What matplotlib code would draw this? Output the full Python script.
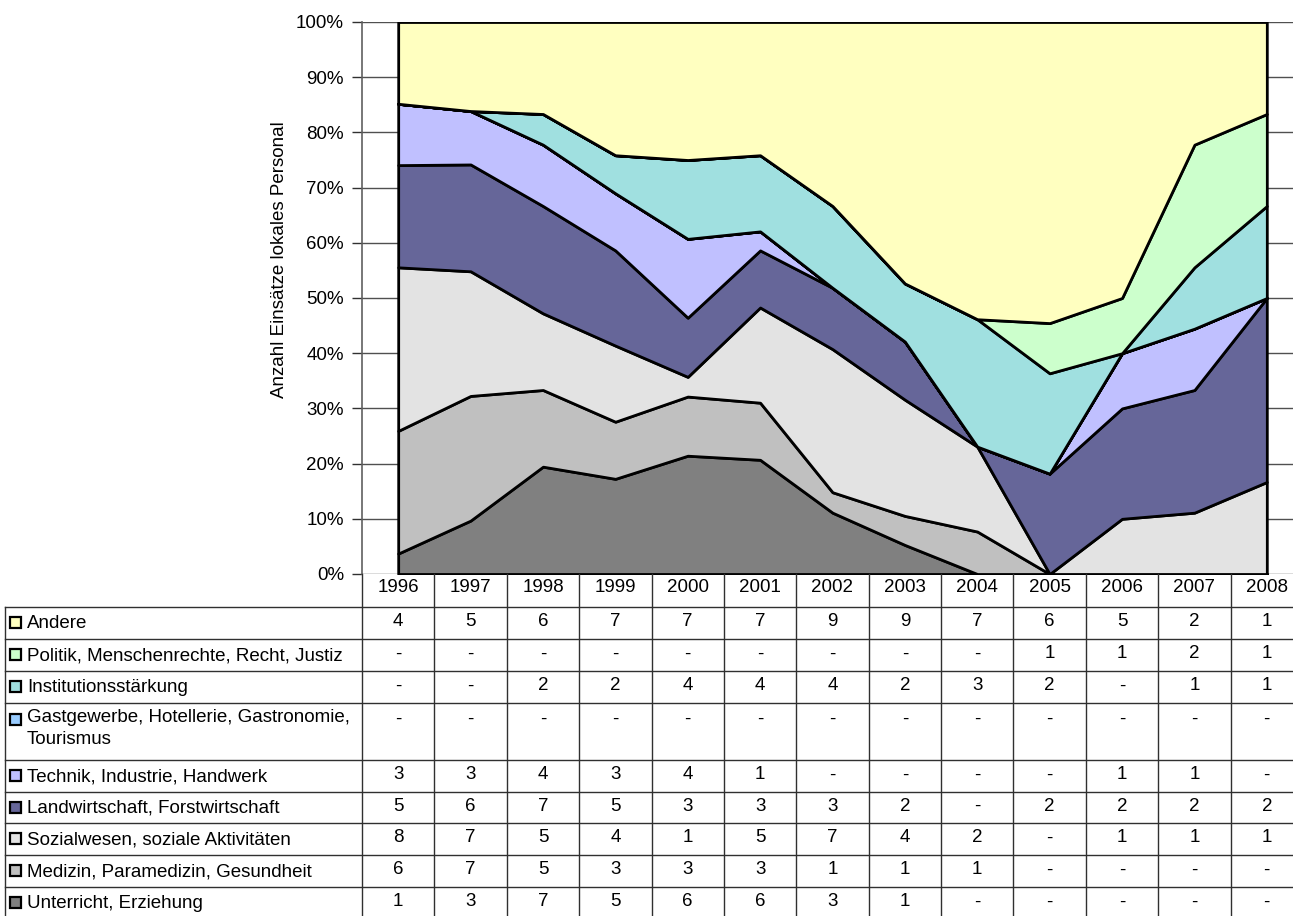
import matplotlib
matplotlib.use("Agg")
import matplotlib.pyplot as plt
import numpy as np
from matplotlib.transforms import blended_transform_factory
from matplotlib.patches import Rectangle

plt.rcParams["font.family"] = ["Liberation Sans", "DejaVu Sans"]

years = [1996, 1997, 1998, 1999, 2000, 2001, 2002, 2003, 2004, 2005, 2006, 2007, 2008]

# stack order, bottom -> top
labels = [
    "Unterricht, Erziehung",
    "Medizin, Paramedizin, Gesundheit",
    "Sozialwesen, soziale Aktivitäten",
    "Landwirtschaft, Forstwirtschaft",
    "Technik, Industrie, Handwerk",
    "Gastgewerbe, Hotellerie, Gastronomie,\nTourismus",
    "Institutionsstärkung",
    "Politik, Menschenrechte, Recht, Justiz",
    "Andere",
]
unterricht = [1, 3, 7, 5, 6, 6, 3, 1, 0, 0, 0, 0, 0]
medizin = [6, 7, 5, 3, 3, 3, 1, 1, 1, 0, 0, 0, 0]
sozial = [8, 7, 5, 4, 1, 5, 7, 4, 2, 0, 1, 1, 1]
landwirtschaft = [5, 6, 7, 5, 3, 3, 3, 2, 0, 2, 2, 2, 2]
technik = [3, 3, 4, 3, 4, 1, 0, 0, 0, 0, 1, 1, 0]
gastgewerbe = [0, 0, 0, 0, 0, 0, 0, 0, 0, 0, 0, 0, 0]
institution = [0, 0, 2, 2, 4, 4, 4, 2, 3, 2, 0, 1, 1]
politik = [0, 0, 0, 0, 0, 0, 0, 0, 0, 1, 1, 2, 1]
andere = [4, 5, 6, 7, 7, 7, 9, 9, 7, 6, 5, 2, 1]

series = [unterricht, medizin, sozial, landwirtschaft, technik,
          gastgewerbe, institution, politik, andere]
colors = ["#808080", "#C0C0C0", "#E3E3E3", "#666699", "#C0C0FF",
          "#99CCFF", "#A0E0E0", "#CCFFCC", "#FFFFC0"]

FS = 13.5
W, H = 1293, 916
fig = plt.figure(figsize=(W / 100, H / 100), dpi=100)

# plot area in pixel terms
x_left, x_right = 362, 1303
y_top, y_bot = 22, 574
ax = fig.add_axes([x_left / W, 1 - y_bot / H, (x_right - x_left) / W, (y_bot - y_top) / H])

data = np.array(series, dtype=float)
pct = data / data.sum(axis=0) * 100
cum = np.vstack([np.zeros(len(years)), np.cumsum(pct, axis=0)])

for i in range(len(series)):
    ax.fill_between(years, cum[i], cum[i + 1], facecolor=colors[i],
                    edgecolor="black", linewidth=2, zorder=3)

ax.set_xlim(years[0] - 0.5, years[-1] + 0.5)
ax.set_ylim(0, 100)
ax.set_yticks(range(0, 101, 10))
ax.set_yticklabels([f"{v}%" for v in range(0, 101, 10)], fontsize=FS)
ax.set_xticks([])
ax.tick_params(axis="y", direction="out", length=7, width=1, color="#303030", pad=6)
ax.grid(axis="y", color="#505050", linewidth=1, zorder=0)
for s in ["top", "right", "bottom"]:
    ax.spines[s].set_visible(False)
ax.spines["left"].set_color("#606060")
ax.spines["left"].set_linewidth(1.2)

fig.text(279 / W, 1 - 260 / H, "Anzahl Einsätze lokales Personal", rotation=90,
         ha="center", va="center", fontsize=FS)

# data table below the chart
tab = fig.add_axes([0, 0, 1, 1 - y_bot / H])
tab.set_ylim(H, y_bot)
tab.set_xlim(0, W)
tab.axis("off")
bt = blended_transform_factory(ax.transData, tab.transData)

row_edges = [607, 639, 671, 703, 760, 792, 823, 855, 887, 919]
line_col = "#303030"

# header row with years
for yr in years:
    tab.text(yr, 588, str(yr), transform=bt, ha="center", va="center", fontsize=FS)

# column separators
for k in range(len(years) + 1):
    xb = years[0] - 0.5 + k
    tab.plot([xb, xb], [y_bot, H + 5], transform=bt, color=line_col, lw=1, clip_on=False)
# left border of label column
tab.plot([5, 5], [row_edges[0], H + 5], color=line_col, lw=1)
# horizontal lines
for yb in row_edges[:-1]:
    tab.plot([5, W + 20], [yb, yb], color=line_col, lw=1, clip_on=False)

rows = list(range(len(series)))[::-1]  # table top row = Andere
for r, si in enumerate(rows):
    y0, y1 = row_edges[r], row_edges[r + 1]
    tall = (y1 - y0) > 40
    yc = y0 + 17 if tall else (y0 + y1) / 2
    tab.add_patch(Rectangle((10, yc - 5.5), 11, 11, facecolor=colors[si],
                            edgecolor="black", linewidth=1.6))
    if tall:
        tab.text(27, y0 + 6, labels[si], ha="left", va="top", fontsize=FS, linespacing=1.4)
    else:
        tab.text(27, yc + 1, labels[si], ha="left", va="center", fontsize=FS)
    for j, yr in enumerate(years):
        v = series[si][j]
        tab.text(yr, yc - 1, str(v) if v else "-", transform=bt,
                 ha="center", va="center", fontsize=FS)

fig.savefig("out.png", dpi=100)
